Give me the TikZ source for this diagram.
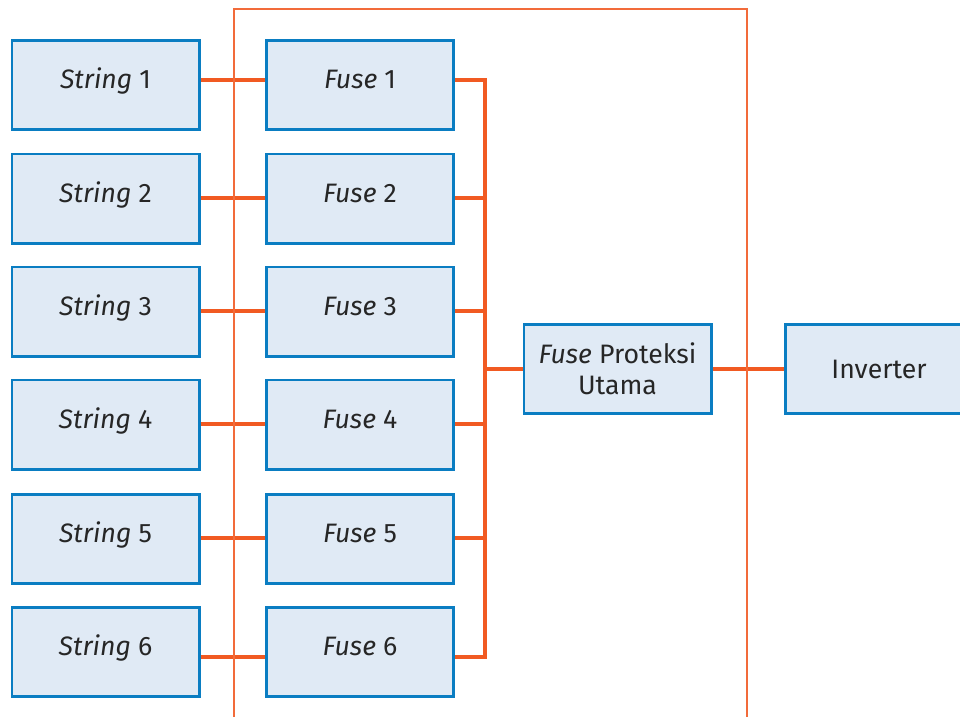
\documentclass[tikz,border=0pt]{standalone}
\usepackage{fontspec}
\setmainfont{Fira Sans}
\definecolor{boxfill}{HTML}{E0EAF5}
\definecolor{boxline}{HTML}{0A7DC2}
\definecolor{wire}{HTML}{F15A22}
\definecolor{frameline}{HTML}{F26B3A}
% label whose baseline sits just below the node centre
\newcommand{\rowlabel}[1]{\raisebox{-2.9pt}[0pt][0pt]{#1}}
\begin{document}
\begin{tikzpicture}[x=0.75pt,y=-0.75pt,
  unit/.style={draw=boxline,fill=boxfill,line width=1.9pt,minimum width=142.5pt-1.9pt,
    minimum height=69pt-1.9pt,inner sep=0pt,align=center,
    font=\fontsize{20}{23.5}\selectfont,text=black!85},
  wirestyle/.style={draw=wire,line width=2.3pt},
  framestyle/.style={draw=frameline,line width=1.1pt}]
\useasboundingbox (0,0) rectangle (960,717);
\clip (0,0) rectangle (960,717);
% enclosure outline
\draw[framestyle] (234,730) -- (234,9) -- (747,9) -- (747,730);
% strings and their fuses (box centre / wire height)
\foreach \i/\y/\w in {1/85/80,2/198.5/198,3/311.5/311,4/424.5/424,5/539/538,6/652/657}{
  \node[unit] (s\i) at (105.5,\y) {\rowlabel{\textit{String} \i}};
  \node[unit] (f\i) at (360,\y) {\rowlabel{\textit{Fuse} \i}};
  \coordinate (sw\i) at (s\i.east |- 0,\w);
  \coordinate (fw\i) at (f\i.west |- 0,\w);
  \coordinate (fo\i) at (f\i.east |- 0,\w);
}
\node[unit] (main) at (617.5,369) {\textit{Fuse} Proteksi\\Utama};
\node[unit] (inv) at (879,369) {Inverter};
% bus line
\coordinate (bus) at (485,369);
\foreach \i in {1,...,6}{
  \draw[wirestyle] (sw\i) -- (fw\i);
}
\draw[wirestyle] (fo1) -| (bus);
\draw[wirestyle] (fo6) -| (bus);
\foreach \i in {2,3,4,5}{
  \draw[wirestyle] (fo\i) -- (fo\i -| bus);
}
\draw[wirestyle] (bus) -- (main.west);
\draw[wirestyle] (main) -- (inv);
% redraw outline segments over the wires
\draw[framestyle] (234,9) -- (234,730);
\draw[framestyle] (747,9) -- (747,730);
\end{tikzpicture}
\end{document}
